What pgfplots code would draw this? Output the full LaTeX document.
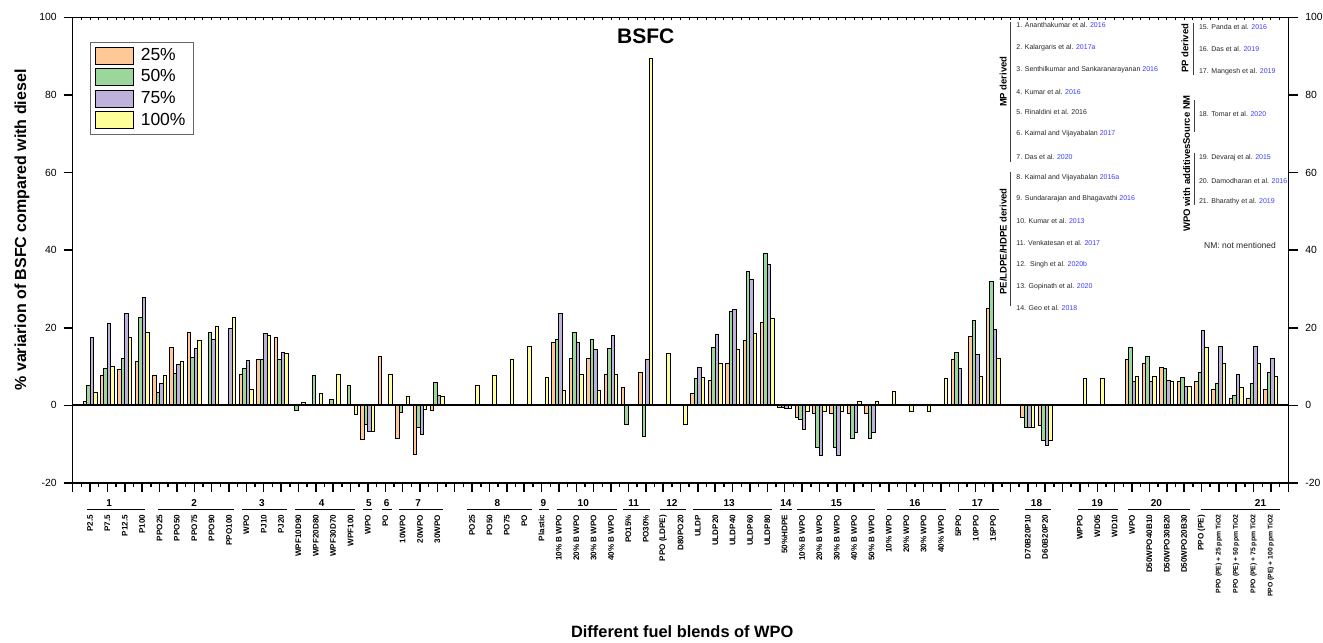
\documentclass[border=0pt]{standalone}
\usepackage{fontspec}
\setmainfont{Liberation Sans}
\usepackage{pgfplots}
\pgfplotsset{compat=1.18}

\definecolor{cA}{RGB}{255,200,150}
\definecolor{cB}{RGB}{155,215,155}
\definecolor{cC}{RGB}{190,178,220}
\definecolor{cD}{RGB}{255,255,153}
\definecolor{yr}{RGB}{60,60,255}
\newcommand{\fs}[1]{\fontsize{#1}{#1}\selectfont}
\newcommand{\sm}[1]{{\fs{3.4}#1}}

\begin{document}
\begin{tikzpicture}
\pgfplotsset{
  base/.style={width=607.8pt, height=232.85pt, scale only axis,
    xmin=0, xmax=70, ymin=-20, ymax=100,
    axis line style={line width=0.75pt},
    /pgf/number format/assume math mode=true, clip=false},
  bars/.style={ybar, bar width=0.2, draw=black, line width=0.5pt},
}
\begin{axis}[base,
  xtick={0,...,70},
  xticklabels={{},P2.5,P7.5,P12.5,P100,PPO25,PPO50,PPO75,PPO90,PPO100,WPO,PJ10,PJ20,WPF10D90,WPF20D80,WPF30D70,WPF100,WPO,PO,10WPO,20WPO,30WPO,{},PO25,PO50,PO75,PO,Plastic,10\% B WPO,20\% B WPO,30\% B WPO,40\% B WPO,PO15\%,PO30\%,PPO (LDPE),D80PO20,ULDP,ULDP20,ULDP40,ULDP60,ULDP80,50\%HDPE,10\% B WPO,20\% B WPO,30\% B WPO,40\% B WPO,50\% B WPO,10\% WPO,20\% WPO,30\% WPO,40\% WPO,5PPO,10PPO,15PPO,{},D70B20P10,D60B20P20,{},WPPO,WD05,WD10,WPO,D50WPO40B10,D50WPO30B20,D50WPO20B30,PPO (PE),\sm{PPO (PE) + 25 ppm TiO2},\sm{PPO (PE) + 50 ppm TiO2},\sm{PPO (PE) + 75 ppm TiO2},\sm{PPO (PE) + 100 ppm TiO2},{}},
  minor x tick num=1,
  xtick pos=left, ytick pos=left,
  tick align=outside,
  major tick length=4.5pt, minor tick length=2pt,
  tick style={line width=0.75pt, black},
  ytick={-20,0,...,100},
  yticklabel style={font=\fs{5.2}},
  xticklabel style={rotate=90, anchor=east, font=\bfseries\fs{4.05}, inner sep=0pt},
  xticklabel shift=11.25pt,
  legend style={at={(0.0142,0.9476)}, anchor=north west, draw=black!60, line width=0.4pt,
    font=\fs{8.75}, inner xsep=2.5pt, inner ysep=1.5pt, row sep=0.2pt,
    nodes={inner sep=1.5pt}, cells={anchor=west}},
  legend image code/.code={\draw[#1] (0pt,-4.25pt) rectangle (18.7pt,4.25pt);},
]
\addplot[bars, fill=cA, bar shift=-0.3] coordinates {
(1,1.0) (2,7.8) (3,9.2) (4,11.4) (5,7.7) (6,14.9) (7,18.8) (10,7.9) (11,11.8) (12,17.5)
(17,-8.8) (18,12.7) (19,-8.5) (20,-12.6) (21,-1.4)
(28,16.1) (29,12.1) (30,12.1) (31,8.0) (32,4.7) (33,8.5)
(36,3.0) (37,6.3) (38,10.9) (39,16.8) (40,21.4) (41,-0.6)
(42,-3.1) (43,-2.2) (44,-2.2) (45,-2.2) (46,-2.2)
(51,11.7) (52,17.7) (53,24.9) (55,-3.2) (56,-5.1)
(61,11.7) (62,10.7) (63,9.7) (64,6.2) (65,6.1) (66,4.0) (67,1.8) (68,1.8) (69,4.0)};
\addplot[bars, fill=cB, bar shift=-0.1] coordinates {
(1,5.1) (2,9.4) (3,12.1) (4,22.6) (5,3.4) (6,8.3) (7,12.4) (8,18.8) (10,9.4) (11,11.8) (12,11.8)
(13,-1.4) (14,7.6) (15,1.6) (16,5.0) (17,-5.0) (19,-1.8) (20,-5.6) (21,6.0)
(28,17.0) (29,18.8) (30,17.0) (31,14.7) (32,-5.0) (33,-8.1)
(36,6.9) (37,14.9) (38,24.1) (39,34.5) (40,39.1) (41,-0.6)
(42,-3.7) (43,-10.9) (44,-10.8) (45,-8.5) (46,-8.5)
(51,13.6) (52,21.8) (53,32.0) (55,-5.7) (56,-9.1)
(61,15.0) (62,12.6) (63,9.5) (64,7.2) (65,8.5) (66,5.6) (67,2.6) (68,5.6) (69,8.5)};
\addplot[bars, fill=cC, bar shift=0.1] coordinates {
(1,17.4) (2,21.2) (3,23.8) (4,27.7) (5,5.7) (6,10.6) (7,14.7) (8,17.1) (9,19.7) (10,11.6) (11,18.6) (12,13.7)
(17,-6.7) (20,-7.5) (21,2.6)
(28,23.6) (29,16.2) (30,14.5) (31,18.0) (33,11.7)
(36,9.8) (37,18.3) (38,24.6) (39,32.5) (40,36.4) (41,-0.8)
(42,-6.2) (43,-12.9) (44,-12.9) (45,-7.1) (46,-7.1)
(51,9.5) (52,13.2) (53,19.6) (55,-5.6) (56,-10.3)
(61,6.2) (62,6.2) (63,6.3) (64,4.9) (65,19.3) (66,15.3) (67,7.9) (68,15.3) (69,12.0)};
\addplot[bars, fill=cD, bar shift=0.3] coordinates {
(1,3.2) (2,10.0) (3,17.4) (4,18.7) (5,7.8) (6,11.4) (7,16.7) (8,20.2) (9,22.7) (10,4.0) (11,18.1) (12,13.4)
(13,0.8) (14,3.1) (15,7.9) (16,-2.3) (17,-6.8) (18,8.0) (19,2.3) (20,-1.0) (21,2.3)
(23,5.0) (24,7.8) (25,11.7) (26,15.1) (27,7.3)
(28,3.9) (29,8.0) (30,3.9) (31,8.0) (33,89.5) (34,13.3) (35,-5.0)
(36,7.3) (37,10.7) (38,14.5) (39,18.5) (40,22.4) (41,-0.9)
(42,-1.5) (43,-1.6) (44,-1.6) (45,0.9) (46,0.9)
(47,3.7) (48,-1.5) (49,-1.5) (50,6.8)
(52,7.4) (53,12.1) (55,-5.6) (56,-9.1) (58,7.0) (59,7.0)
(61,7.4) (62,7.4) (63,6.1) (64,4.8) (65,15.0) (66,10.9) (67,4.7) (68,10.9) (69,7.4)};
\legend{\hspace{2pt}25\%,\hspace{2pt}50\%,\hspace{2pt}75\%,\hspace{2pt}100\%\hspace{5pt}}
\draw[line width=1pt] (axis cs:0,0) -- (axis cs:70,0);

% group lines and numbers
\begin{scope}[every node/.style={font=\bfseries\fs{5}, inner sep=0pt}]
\draw[line width=0.5pt] (axis cs:0.81,-26.95) -- (axis cs:4.17,-26.95);   \node at (axis cs:2.1,-25.2) {1};
\draw[line width=0.5pt] (axis cs:4.89,-26.95) -- (axis cs:9.31,-26.95);   \node at (axis cs:7.0,-25.2) {2};
\draw[line width=0.5pt] (axis cs:9.77,-26.95) -- (axis cs:12.32,-26.95);  \node at (axis cs:10.9,-25.2) {3};
\draw[line width=0.5pt] (axis cs:12.80,-26.95) -- (axis cs:16.26,-26.95); \node at (axis cs:14.33,-25.2) {4};
\draw[line width=0.5pt] (axis cs:16.70,-26.95) -- (axis cs:17.25,-26.95); \node at (axis cs:17.06,-25.2) {5};
\draw[line width=0.5pt] (axis cs:17.79,-26.95) -- (axis cs:18.37,-26.95); \node at (axis cs:18.08,-25.2) {6};
\draw[line width=0.5pt] (axis cs:18.79,-26.95) -- (axis cs:21.31,-26.95); \node at (axis cs:19.9,-25.2) {7};
\draw[line width=0.5pt] (axis cs:22.72,-26.95) -- (axis cs:26.43,-26.95); \node at (axis cs:24.45,-25.2) {8};
\draw[line width=0.5pt] (axis cs:26.85,-26.95) -- (axis cs:27.45,-26.95); \node at (axis cs:27.1,-25.2) {9};
\draw[line width=0.5pt] (axis cs:27.87,-26.95) -- (axis cs:31.36,-26.95); \node at (axis cs:29.4,-25.2) {10};
\draw[line width=0.5pt] (axis cs:31.71,-26.95) -- (axis cs:33.24,-26.95); \node at (axis cs:32.3,-25.2) {11};
\draw[line width=0.5pt] (axis cs:33.82,-26.95) -- (axis cs:35.32,-26.95); \node at (axis cs:34.5,-25.2) {12};
\draw[line width=0.5pt] (axis cs:35.74,-26.95) -- (axis cs:40.29,-26.95); \node at (axis cs:37.8,-25.2) {13};
\draw[line width=0.5pt] (axis cs:40.73,-26.95) -- (axis cs:41.40,-26.95); \node at (axis cs:41.07,-25.2) {14};
\draw[line width=0.5pt] (axis cs:41.73,-26.95) -- (axis cs:46.20,-26.95); \node at (axis cs:43.98,-25.2) {15};
\draw[line width=0.5pt] (axis cs:46.91,-26.95) -- (axis cs:50.29,-26.95); \node at (axis cs:48.5,-25.2) {16};
\draw[line width=0.5pt] (axis cs:51.04,-26.95) -- (axis cs:53.34,-26.95); \node at (axis cs:52.1,-25.2) {17};
\draw[line width=0.5pt] (axis cs:54.84,-26.95) -- (axis cs:56.32,-26.95); \node at (axis cs:55.5,-25.2) {18};
\draw[line width=0.5pt] (axis cs:57.91,-26.95) -- (axis cs:60.21,-26.95); \node at (axis cs:59.0,-25.2) {19};
\draw[line width=0.5pt] (axis cs:60.79,-26.95) -- (axis cs:64.34,-26.95); \node at (axis cs:62.4,-25.2) {20};
\draw[line width=0.5pt] (axis cs:64.95,-26.95) -- (axis cs:69.52,-26.95); \node at (axis cs:68.4,-25.2) {21};
\end{scope}

% titles
\node[font=\bfseries\fs{10.5}] at (axis cs:33.0,95.0) {BSFC};
\node[font=\bfseries\fs{8.2}] at (axis cs:35.1,-58.26) {Different fuel blends of WPO};
\node[rotate=90, font=\bfseries\fs{8}] at (axis cs:-2.92,45.2) {\% variarion of BSFC compared with diesel};

% reference annotations
\begin{scope}[every node/.style={inner sep=0pt}]
\draw[line width=0.5pt, black!75] (axis cs:54.01,98.87) -- (axis cs:54.01,62.82);
\node[rotate=90, font=\bfseries\fs{4.75}] at (axis cs:53.59,83.42) {MP derived};
\draw[line width=0.5pt, black!75] (axis cs:54.01,60.25) -- (axis cs:54.01,25.49);
\node[rotate=90, font=\bfseries\fs{4.75}] at (axis cs:53.59,42.22) {PE/LDPE/HDPE derived};
\draw[line width=0.5pt, black!75] (axis cs:64.53,98.45) -- (axis cs:64.53,85.14);
\node[rotate=90, font=\bfseries\fs{4.75}] at (axis cs:64.05,92.02) {PP derived};
\draw[line width=0.5pt, black!75] (axis cs:64.57,78.71) -- (axis cs:64.57,70.55);
\node[rotate=90, font=\bfseries\fs{4.75}] at (axis cs:64.15,73.56) {Source NM};
\draw[line width=0.5pt, black!75] (axis cs:64.57,64.99) -- (axis cs:64.57,51.67);
\node[rotate=90, font=\bfseries\fs{4.75}] at (axis cs:64.15,56.05) {WPO with additives};
\end{scope}
\begin{scope}[every node/.style={anchor=west, inner sep=0pt, font=\fs{3.5}, text=black!85}]
\node at (axis cs:54.32,98.02) {1. Ananthakumar et al. \textcolor{yr}{2016}};
\node at (axis cs:54.32,92.17) {2. Kalargaris et al. \textcolor{yr}{2017a}};
\node at (axis cs:54.32,86.43) {3. Senthilkumar and Sankaranarayanan \textcolor{yr}{2016}};
\node at (axis cs:54.32,80.84) {4. Kumar et al. \textcolor{yr}{2016}};
\node at (axis cs:54.32,75.54) {5. Rinaldini et al. 2016};
\node at (axis cs:54.32,69.88) {6. Kaimal and Vijayabalan \textcolor{yr}{2017}};
\node at (axis cs:54.32,64.11) {7. Das et al. \textcolor{yr}{2020}};
\node at (axis cs:54.32,58.55) {8. Kaimal and Vijayabalan \textcolor{yr}{2016a}};
\node at (axis cs:54.32,53.14) {9. Sundararajan and Bhagavathi \textcolor{yr}{2016}};
\node at (axis cs:54.32,47.48) {10. Kumar et al. \textcolor{yr}{2013}};
\node at (axis cs:54.32,41.81) {11. Venkatesan et al. \textcolor{yr}{2017}};
\node at (axis cs:54.32,36.15) {12.\ \ Singh et al. \textcolor{yr}{2020b}};
\node at (axis cs:54.32,30.64) {13. Gopinath et al. \textcolor{yr}{2020}};
\node at (axis cs:54.32,25.08) {14. Geo et al. \textcolor{yr}{2018}};
\node at (axis cs:64.84,97.43) {15. Panda et al. \textcolor{yr}{2016}};
\node at (axis cs:64.84,91.76) {16. Das et al. \textcolor{yr}{2019}};
\node at (axis cs:64.84,86.10) {17. Mangesh et al. \textcolor{yr}{2019}};
\node at (axis cs:64.84,75.03) {18. Tomar et al. \textcolor{yr}{2020}};
\node at (axis cs:64.84,63.70) {19. Devaraj et al. \textcolor{yr}{2015}};
\node at (axis cs:64.84,57.93) {20. Damodharan et al. \textcolor{yr}{2016}};
\node at (axis cs:64.84,52.52) {21. Bharathy et al. \textcolor{yr}{2019}};
\end{scope}
\node[inner sep=0pt, font=\fs{4.25}, text=black!85] at (axis cs:67.22,41.12) {NM: not mentioned};

\coordinate (sw) at (rel axis cs:0,0);
\coordinate (ne) at (rel axis cs:1,1);
\end{axis}

\begin{axis}[base, axis x line=none, axis y line*=right,
  ytick={-20,0,...,100}, tick align=outside, major tick length=5pt,
  tick style={line width=0.75pt, black},
  yticklabel style={font=\fs{5.2}}, xtick=\empty]
\addplot[draw=none] coordinates {(0,0)};
\end{axis}

\begin{axis}[base, axis y line=none, axis x line*=top,
  xtick={0,...,70}, minor x tick num=1, xticklabels={},
  tick align=inside, major tick length=1.5pt, minor tick length=1.5pt,
  tick style={line width=0.5pt, black}, ytick=\empty]
\addplot[draw=none] coordinates {(0,0)};
\end{axis}

\pgfresetboundingbox
\path ([shift={(-36.35pt,-79.5pt)}]sw) rectangle ([shift={(17.35pt,8.65pt)}]ne);
\end{tikzpicture}
\end{document}
